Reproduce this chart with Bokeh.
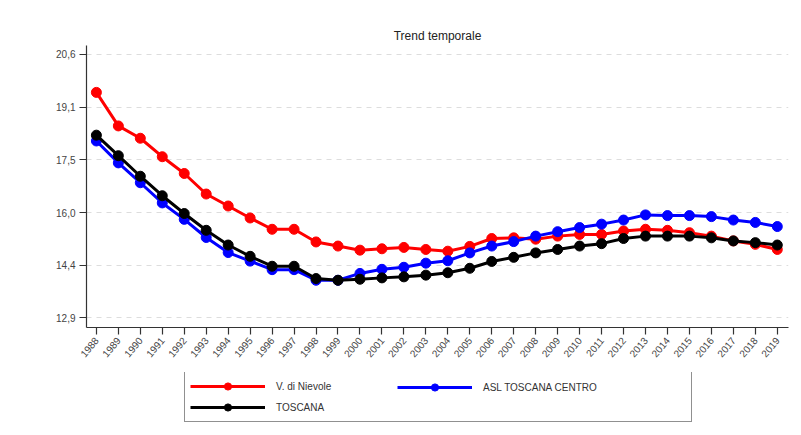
from bokeh.plotting import figure
from bokeh.models import Range1d, FixedTicker, Legend, LegendItem
from bokeh.layouts import column
from bokeh.embed import file_html
from bokeh.resources import INLINE
import math

years = list(range(1988, 2020))
v_nievole = [19.49, 18.51, 18.15, 17.61, 17.12, 16.52, 16.17, 15.82, 15.49, 15.49,
             15.12, 15.00, 14.88, 14.92, 14.96, 14.90, 14.85, 14.99, 15.22, 15.24,
             15.20, 15.29, 15.34, 15.34, 15.44, 15.49, 15.46, 15.39, 15.29, 15.15,
             15.05, 14.90]
asl_centro = [18.07, 17.43, 16.85, 16.26, 15.78, 15.25, 14.81, 14.56, 14.31, 14.31,
              14.00, 14.00, 14.20, 14.32, 14.38, 14.50, 14.57, 14.80, 15.00, 15.13,
              15.29, 15.42, 15.54, 15.64, 15.76, 15.91, 15.89, 15.89, 15.86, 15.76,
              15.69, 15.57]
toscana = [18.24, 17.64, 17.04, 16.47, 15.95, 15.46, 15.03, 14.70, 14.41, 14.41,
           14.05, 14.00, 14.03, 14.07, 14.10, 14.15, 14.22, 14.35, 14.55, 14.67,
           14.80, 14.90, 15.00, 15.07, 15.22, 15.29, 15.29, 15.29, 15.24, 15.15,
           15.10, 15.03]
y_ticks = [12.9, 14.44, 15.98, 17.52, 19.06, 20.6]
y_tick_labels = ["12,9", "14,4", "16,0", "17,5", "19,1", "20,6"]
series_names = ["V. di Nievole", "ASL TOSCANA CENTRO", "TOSCANA"]
title_text = "Trend temporale"

FONT = "Liberation Sans"
colors = ["#ff0000", "#0000ff", "#000000"]

p = figure(width=798, height=372, output_backend="svg", toolbar_location=None,
           x_range=Range1d(1987.55, 2019.51), y_range=Range1d(12.62, 20.86),
           min_border_left=86, min_border_right=10, min_border_top=45,
           min_border_bottom=45, title=title_text)

p.title.align = "center"
p.title.text_font = FONT
p.title.text_font_size = "12px"
p.title.text_font_style = "normal"
p.title.text_color = "#222222"
p.title.standoff = 6

p.outline_line_color = None
p.background_fill_color = "white"
p.border_fill_color = "white"

p.xgrid.grid_line_color = None
p.ygrid.grid_line_color = "#dddddd"
p.ygrid.grid_line_dash = "5 5"
p.ygrid.grid_line_width = 1

p.yaxis.ticker = FixedTicker(ticks=y_ticks)
p.yaxis.major_label_overrides = {t: l for t, l in zip(y_ticks, y_tick_labels)}
p.xaxis.ticker = FixedTicker(ticks=years)

for ax in (p.xaxis, p.yaxis):
    ax.axis_line_color = "#333333"
    ax.axis_line_width = 1.2
    ax.major_tick_line_color = "#333333"
    ax.major_tick_line_width = 1.2
    ax.major_tick_out = 7
    ax.major_tick_in = 0
    ax.minor_tick_line_color = None
    ax.major_label_text_font = FONT
    ax.major_label_text_font_size = "10px"
    ax.major_label_text_color = "#444444"
    ax.major_label_standoff = 4

p.xaxis.major_label_orientation = math.radians(50)

data = [v_nievole, asl_centro, toscana]
for col, vals in zip(colors, data):
    p.line(years, vals, line_color=col, line_width=3)
    p.scatter(years, vals, marker="circle", size=10, fill_color=col, line_color=col)

# legend panel below the chart
lg = figure(width=798, height=58, output_backend="svg", toolbar_location=None,
            x_range=Range1d(0, 1), y_range=Range1d(0, 1),
            min_border=0, min_border_left=0, min_border_right=0,
            min_border_top=0, min_border_bottom=0)
lg.axis.visible = False
lg.grid.visible = False
lg.outline_line_color = None
lg.border_fill_color = "white"

items = []
for name, col in zip(series_names, colors):
    lr = lg.line([-5, -4], [-5, -4], line_color=col, line_width=3)
    sr = lg.scatter([-5], [-5], marker="circle", size=10, fill_color=col, line_color=col)
    items.append(LegendItem(label=name, renderers=[lr, sr]))

common = dict(glyph_width=75, glyph_height=18, label_height=18, label_standoff=11,
              padding=5, spacing=3, label_text_font=FONT, label_text_font_size="10px",
              label_text_color="#333333", orientation="vertical",
              click_policy="none")

legend_a = Legend(items=[items[0], items[2]], location=(98, 8),
                  border_line_color="#222222", border_line_width=1.5,
                  background_fill_color="white", background_fill_alpha=1.0,
                  label_width=410, **common)
legend_b = Legend(items=[items[1]], location=(311, 34),
                  border_line_color=None, background_fill_alpha=0.0,
                  label_width=20, **common)
lg.add_layout(legend_a, "center")
lg.add_layout(legend_b, "center")

layout = column(p, lg, spacing=0)
open("out.html", "w").write(file_html(layout, INLINE))
